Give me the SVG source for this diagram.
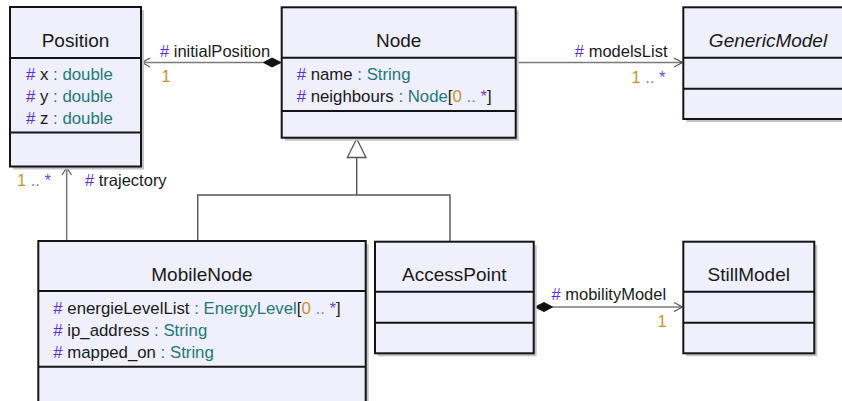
<svg xmlns="http://www.w3.org/2000/svg" width="842" height="401" viewBox="0 0 842 401">
<style>
text{font-family:"Liberation Sans",Arial,sans-serif;fill:#1a1a1a}
.title{font-size:19px;text-anchor:middle}
.attr{font-size:16.8px}
.lbl{font-size:16.5px}
.h{fill:#5a2fd0}
.t{fill:#1f7878}
.m{fill:#c8922a}
.d{fill:#8a70e8}
.s{fill:#6a44dd}
.box{fill:#f0f0fc;stroke:#141414;stroke-width:2}
.shadow{fill:#c4c4c4}
.sep{stroke:#141414;stroke-width:2}
.conn{stroke:#7a7a7a;stroke-width:1.6;fill:none}
.gen{stroke:#555;stroke-width:1.4;fill:none}
.head{stroke:#555;stroke-width:1.2;fill:none}
.dia{fill:#111;stroke:#111;stroke-width:1}
</style>
<rect width="842" height="401" fill="#ffffff"/>

<g id="connectors">
  <!-- initialPosition -->
  <line class="conn" x1="142" y1="62.5" x2="264" y2="62.5"/>
  <path class="head" d="M150,58 L142,62.5 L150,67"/>
  <path class="dia" d="M263.5,62.5 L272,58 L281,62.5 L272,67 Z"/>
  <!-- modelsList -->
  <line class="conn" x1="517" y1="62.5" x2="682" y2="62.5"/>
  <path class="head" d="M674,58 L682.5,62.5 L674,67"/>
  <!-- trajectory -->
  <line class="conn" x1="66.7" y1="241" x2="66.7" y2="168"/>
  <path class="head" d="M62,175 L66.7,167.5 L71.5,175"/>
  <!-- generalization -->
  <polyline class="gen" points="197.7,241 197.7,195 450,195 450,241"/>
  <line class="gen" x1="356.7" y1="195" x2="356.7" y2="157.5"/>
  <path d="M356.7,138.8 L347.3,157.5 L366,157.5 Z" fill="#ffffff" stroke="#555" stroke-width="1.3"/>
  <!-- mobilityModel -->
  <line class="conn" x1="552" y1="307" x2="682" y2="307"/>
  <path class="head" d="M674,302.5 L682.5,307 L674,311.5"/>
  <path class="dia" d="M535,307 L544,302.5 L552.5,307 L544,311.5 Z"/>
  <!-- labels -->
  <text class="lbl" x="160" y="57"><tspan class="h">#</tspan> initialPosition</text>
  <text class="lbl m" x="161.5" y="82">1</text>
  <text class="lbl" x="667.5" y="57" text-anchor="end"><tspan class="h">#</tspan> modelsList</text>
  <text class="lbl" x="665.5" y="82.5" text-anchor="end"><tspan class="m">1</tspan> <tspan class="d">..</tspan> <tspan class="s">*</tspan></text>
  <text class="lbl" x="17" y="185.5"><tspan class="m">1</tspan> <tspan class="d">..</tspan> <tspan class="s">*</tspan></text>
  <text class="lbl" x="85" y="185.5"><tspan class="h">#</tspan> trajectory</text>
  <text class="lbl" x="551.5" y="300"><tspan class="h">#</tspan> mobilityModel</text>
  <text class="lbl m" x="657.5" y="326.7">1</text>
</g>

<g id="Position">
  <rect class="shadow" x="13" y="10" width="131" height="159.5"/>
  <rect class="box" x="10" y="7" width="131" height="159.5"/>
  <line class="sep" x1="10" y1="58" x2="141" y2="58"/>
  <line class="sep" x1="10" y1="132.5" x2="141" y2="132.5"/>
  <text class="title" x="75.5" y="46.5">Position</text>
  <text class="attr" x="26" y="79.5"><tspan class="h">#</tspan> x <tspan class="t">: double</tspan></text>
  <text class="attr" x="26" y="101.5"><tspan class="h">#</tspan> y <tspan class="t">: double</tspan></text>
  <text class="attr" x="26" y="123.5"><tspan class="h">#</tspan> z <tspan class="t">: double</tspan></text>
</g>

<g id="Node">
  <rect class="shadow" x="284.7" y="10.3" width="234" height="130.4"/>
  <rect class="box" x="281.7" y="7.3" width="234" height="130.4"/>
  <line class="sep" x1="281.7" y1="57.7" x2="515.7" y2="57.7"/>
  <line class="sep" x1="281.7" y1="111" x2="515.7" y2="111"/>
  <text class="title" x="398.7" y="46.5">Node</text>
  <text class="attr" x="296.7" y="79.5"><tspan class="h">#</tspan> name <tspan class="t">: String</tspan></text>
  <text class="attr" x="296.7" y="101.5"><tspan class="h">#</tspan> neighbours <tspan class="t">: Node</tspan>[<tspan class="m">0</tspan> <tspan class="d">..</tspan> <tspan class="s">*</tspan>]</text>
</g>

<g id="GenericModel">
  <rect class="shadow" x="686.3" y="10.3" width="170" height="111.7"/>
  <rect class="box" x="683.3" y="7.3" width="170" height="111.7"/>
  <line class="sep" x1="683.3" y1="57.7" x2="853.3" y2="57.7"/>
  <line class="sep" x1="683.3" y1="88.7" x2="853.3" y2="88.7"/>
  <text class="title" x="768" y="46.5" font-style="italic">GenericModel</text>
</g>

<g id="MobileNode">
  <rect class="shadow" x="41.3" y="244" width="327.4" height="165"/>
  <rect class="box" x="38.3" y="241" width="327.4" height="165"/>
  <line class="sep" x1="38.3" y1="291" x2="365.7" y2="291"/>
  <line class="sep" x1="38.3" y1="366.7" x2="365.7" y2="366.7"/>
  <text class="title" x="202" y="280.5">MobileNode</text>
  <text class="attr" x="53.3" y="313.5"><tspan class="h">#</tspan> energieLevelList <tspan class="t">: EnergyLevel</tspan>[<tspan class="m">0</tspan> <tspan class="d">..</tspan> <tspan class="s">*</tspan>]</text>
  <text class="attr" x="53.3" y="335.5"><tspan class="h">#</tspan> ip_address <tspan class="t">: String</tspan></text>
  <text class="attr" x="53.3" y="357.5"><tspan class="h">#</tspan> mapped_on <tspan class="t">: String</tspan></text>
</g>

<g id="AccessPoint">
  <rect class="shadow" x="378" y="244.7" width="158.7" height="111.6"/>
  <rect class="box" x="375" y="241.7" width="158.7" height="111.6"/>
  <line class="sep" x1="375" y1="291.7" x2="533.7" y2="291.7"/>
  <line class="sep" x1="375" y1="322.7" x2="533.7" y2="322.7"/>
  <text class="title" x="454.3" y="281">AccessPoint</text>
</g>

<g id="StillModel">
  <rect class="shadow" x="686.3" y="244.7" width="131" height="111.6"/>
  <rect class="box" x="683.3" y="241.7" width="131" height="111.6"/>
  <line class="sep" x1="683.3" y1="291.7" x2="814.3" y2="291.7"/>
  <line class="sep" x1="683.3" y1="322.7" x2="814.3" y2="322.7"/>
  <text class="title" x="748.8" y="281">StillModel</text>
</g>
</svg>
